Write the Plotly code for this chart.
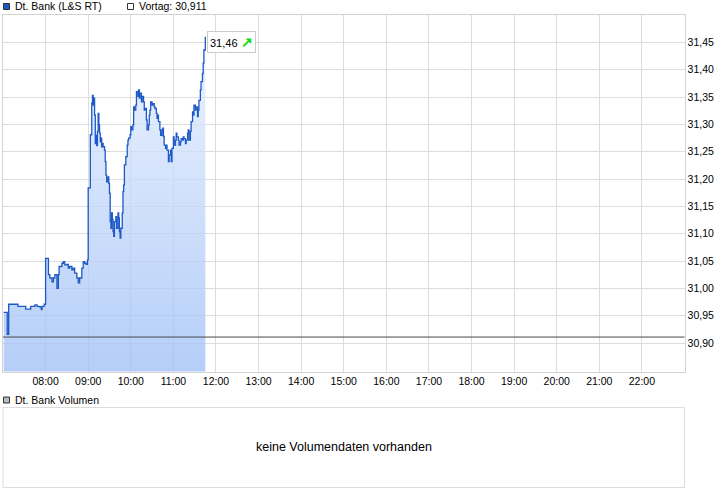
import plotly.graph_objects as go

# ---------------- data ----------------
DAY = "2024-01-15"
series_name = "Dt. Bank (L&S RT)"
volume_name = "Dt. Bank Volumen"
no_volume_text = "keine Volumendaten vorhanden"
prev_label = "Vortag"
prev_close = 30.911

times = [
    "07:01", "07:06", "07:08", "07:21", "07:32", "07:39", "07:45", "07:48", "07:52", "07:54", "07:55", "07:58",
    "08:00", "08:04", "08:06", "08:09", "08:11", "08:13", "08:16", "08:18", "08:19", "08:23", "08:25", "08:27",
    "08:30", "08:32", "08:34", "08:37", "08:39", "08:41", "08:44", "08:46", "08:48", "08:51", "08:53", "08:55",
    "08:57", "08:59",
    "09:00", "09:03", "09:05", "09:06", "09:07", "09:08", "09:09", "09:10", "09:11", "09:12", "09:13", "09:14",
    "09:15", "09:16", "09:17", "09:18", "09:19", "09:20", "09:21", "09:23", "09:24", "09:25", "09:26", "09:28",
    "09:29", "09:30", "09:31", "09:32", "09:33", "09:34", "09:35", "09:36", "09:37", "09:39", "09:40", "09:42",
    "09:43", "09:44", "09:45", "09:46", "09:48", "09:49", "09:50", "09:51", "09:53", "09:55", "09:56", "09:57",
    "09:59",
    "10:00", "10:01", "10:03", "10:04", "10:05", "10:07", "10:08", "10:10", "10:11", "10:12", "10:13", "10:15",
    "10:16", "10:18", "10:19", "10:20", "10:22", "10:23", "10:25", "10:26", "10:27", "10:28", "10:30", "10:31",
    "10:33", "10:34", "10:36", "10:37", "10:38", "10:39", "10:41", "10:42", "10:44", "10:45", "10:46", "10:47",
    "10:49", "10:50", "10:51", "10:53", "10:54", "10:56", "10:57", "10:58",
    "11:00", "11:01", "11:03", "11:04", "11:05", "11:07", "11:08", "11:10", "11:11", "11:13", "11:14", "11:15",
    "11:17", "11:18", "11:20", "11:21", "11:22", "11:24", "11:25", "11:27", "11:28", "11:29", "11:31", "11:32",
    "11:34", "11:35", "11:36", "11:38", "11:39", "11:41", "11:42", "11:43", "11:45",
]

prices = [
    30.956, 30.916, 30.971, 30.967, 30.962, 30.967, 30.970, 30.967, 30.966, 30.961, 30.967, 30.971,
    31.055, 31.025, 31.019, 31.012, 31.019, 31.025, 31.000, 31.025, 31.040, 31.046, 31.049, 31.043,
    31.044, 31.037, 31.040, 31.034, 31.037, 31.028, 31.019, 31.010, 31.019, 31.037, 31.049, 31.046,
    31.044, 31.052,
    31.184, 31.281, 31.339, 31.353, 31.335, 31.348, 31.317, 31.265, 31.280, 31.261, 31.287, 31.320,
    31.299, 31.284, 31.268, 31.275, 31.259, 31.265, 31.259, 31.253, 31.232, 31.207, 31.195, 31.204,
    31.192, 31.174, 31.122, 31.110, 31.138, 31.126, 31.104, 31.095, 31.122, 31.131, 31.110, 31.138,
    31.129, 31.104, 31.092, 31.110, 31.138, 31.177, 31.189, 31.226, 31.241, 31.262, 31.271, 31.275,
    31.281,
    31.296, 31.290, 31.299, 31.332, 31.326, 31.335, 31.360, 31.351, 31.363, 31.348, 31.357, 31.341,
    31.351, 31.341, 31.326, 31.329, 31.308, 31.290, 31.299, 31.317, 31.326, 31.341, 31.335, 31.338,
    31.332, 31.329, 31.320, 31.311, 31.317, 31.305, 31.290, 31.280, 31.290, 31.293, 31.278, 31.262,
    31.256, 31.262, 31.253, 31.232, 31.244, 31.253, 31.232, 31.256,
    31.277, 31.262, 31.271, 31.284, 31.277, 31.271, 31.262, 31.268, 31.274, 31.271, 31.277, 31.274,
    31.265, 31.271, 31.284, 31.290, 31.271, 31.287, 31.305, 31.323, 31.317, 31.335, 31.326, 31.332,
    31.314, 31.326, 31.344, 31.363, 31.378, 31.393, 31.412, 31.436, 31.460,
]
assert len(times) == len(prices)

x_tick_labels = ["08:00", "09:00", "10:00", "11:00", "12:00", "13:00", "14:00", "15:00",
                 "16:00", "17:00", "18:00", "19:00", "20:00", "21:00", "22:00"]
y_ticks = [30.90, 30.95, 31.00, 31.05, 31.10, 31.15, 31.20, 31.25, 31.30, 31.35, 31.40, 31.45]
x_range = ["07:00", "23:00"]
y_range = [30.848, 31.50]

# ---------------- style ----------------
W, H = 726, 496
FONT = "Liberation Sans, Arial, sans-serif"
LINE = "#1c58c6"
GRID = "#dddddd"
BORDER = "#d2d2d2"


def px(v):
    return v / W


def py(v):
    return 1 - v / H


def de(v, n=2):
    return f"{v:.{n}f}".replace(".", ",")


xs = [f"{DAY} {t}" for t in times]

fig = go.Figure()
fig.add_trace(go.Scatter(
    x=xs, y=prices, mode="lines",
    line=dict(color=LINE, width=1.3, shape="hv"),
    fill="tozeroy",
    fillgradient=dict(type="vertical",
                      colorscale=[[0, "rgba(160,192,246,0.78)"], [1, "rgba(230,239,254,0.78)"]],
                      start=y_range[0], stop=max(prices)),
    hoverinfo="skip", showlegend=False,
))

# previous close line
fig.add_shape(type="line", xref="x domain", yref="y", x0=0, x1=1, y0=prev_close, y1=prev_close,
              line=dict(color="#4a4a4a", width=1), layer="above")

# volume panel frame
fig.add_shape(type="rect", xref="paper", yref="paper",
              x0=px(3), x1=px(684.5), y0=py(487.5), y1=py(407.5),
              line=dict(color="#dcdcdc", width=1), fillcolor="rgba(0,0,0,0)")

# legend squares
fig.add_shape(type="rect", xref="paper", yref="paper", x0=px(3.5), x1=px(9.5), y0=py(9.5), y1=py(3.5),
              line=dict(color="#333333", width=1), fillcolor=LINE)
fig.add_shape(type="rect", xref="paper", yref="paper", x0=px(127.5), x1=px(133.5), y0=py(9.5), y1=py(3.5),
              line=dict(color="#333333", width=1), fillcolor="white")
fig.add_shape(type="rect", xref="paper", yref="paper", x0=px(3.5), x1=px(9.5), y0=py(403), y1=py(397),
              line=dict(color="#333333", width=1), fillcolor="#bbbbbb")

annots = [
    dict(x=px(13), y=py(6.5), text=series_name, xanchor="left", yanchor="middle"),
    dict(x=px(137), y=py(6.5), text=f"{prev_label}: {de(prev_close, 3)}", xanchor="left", yanchor="middle"),
    dict(x=px(13), y=py(400), text=volume_name, xanchor="left", yanchor="middle"),
]
for a in annots:
    fig.add_annotation(xref="paper", yref="paper", showarrow=False,
                       font=dict(family=FONT, size=10.5, color="#000000"), **a)

fig.add_annotation(xref="paper", yref="paper", x=px(344), y=py(447), text=no_volume_text,
                   showarrow=False, font=dict(family=FONT, size=12.5, color="#000000"),
                   xanchor="center", yanchor="middle")

# last price label
fig.add_annotation(x=xs[-1], y=prices[-1], xref="x", yref="y",
                   text=f"{de(prices[-1])} <span style='color:#11dd11;font-size:14px'><b>↗</b></span>",
                   showarrow=False, xanchor="left", yanchor="middle", xshift=2, yshift=-5,
                   font=dict(family=FONT, size=11, color="#000000"),
                   bgcolor="white", bordercolor="#cccccc", borderwidth=1, borderpad=2)

fig.update_layout(
    width=W, height=H,
    margin=dict(l=0, r=0, t=0, b=0),
    paper_bgcolor="white", plot_bgcolor="white",
    separators=",.",
    showlegend=False,
    font=dict(family=FONT, size=10.5, color="#000000"),
    xaxis=dict(
        domain=[px(3), px(684.5)],
        type="date",
        range=[f"{DAY} {x_range[0]}", f"{DAY} {x_range[1]}"],
        tickvals=[f"{DAY} {t}" for t in x_tick_labels],
        ticktext=x_tick_labels,
        showgrid=True, gridcolor=GRID, gridwidth=1,
        showline=True, linecolor=BORDER, linewidth=1, mirror=True,
        ticks="", zeroline=False,
        tickfont=dict(family=FONT, size=10.5, color="#000000"),
        fixedrange=True,
    ),
    yaxis=dict(
        domain=[py(371.5), py(15)],
        side="right",
        range=y_range,
        tickvals=y_ticks,
        tickformat=".2f",
        showgrid=True, gridcolor=GRID, gridwidth=1,
        showline=True, linecolor=BORDER, linewidth=1, mirror=True,
        ticks="", zeroline=False,
        tickfont=dict(family=FONT, size=10.5, color="#000000"),
        fixedrange=True,
    ),
)

fig.write_html("out.html", config={"displayModeBar": False},
               post_script="document.body.style.margin='0';document.body.style.overflow='hidden';")
